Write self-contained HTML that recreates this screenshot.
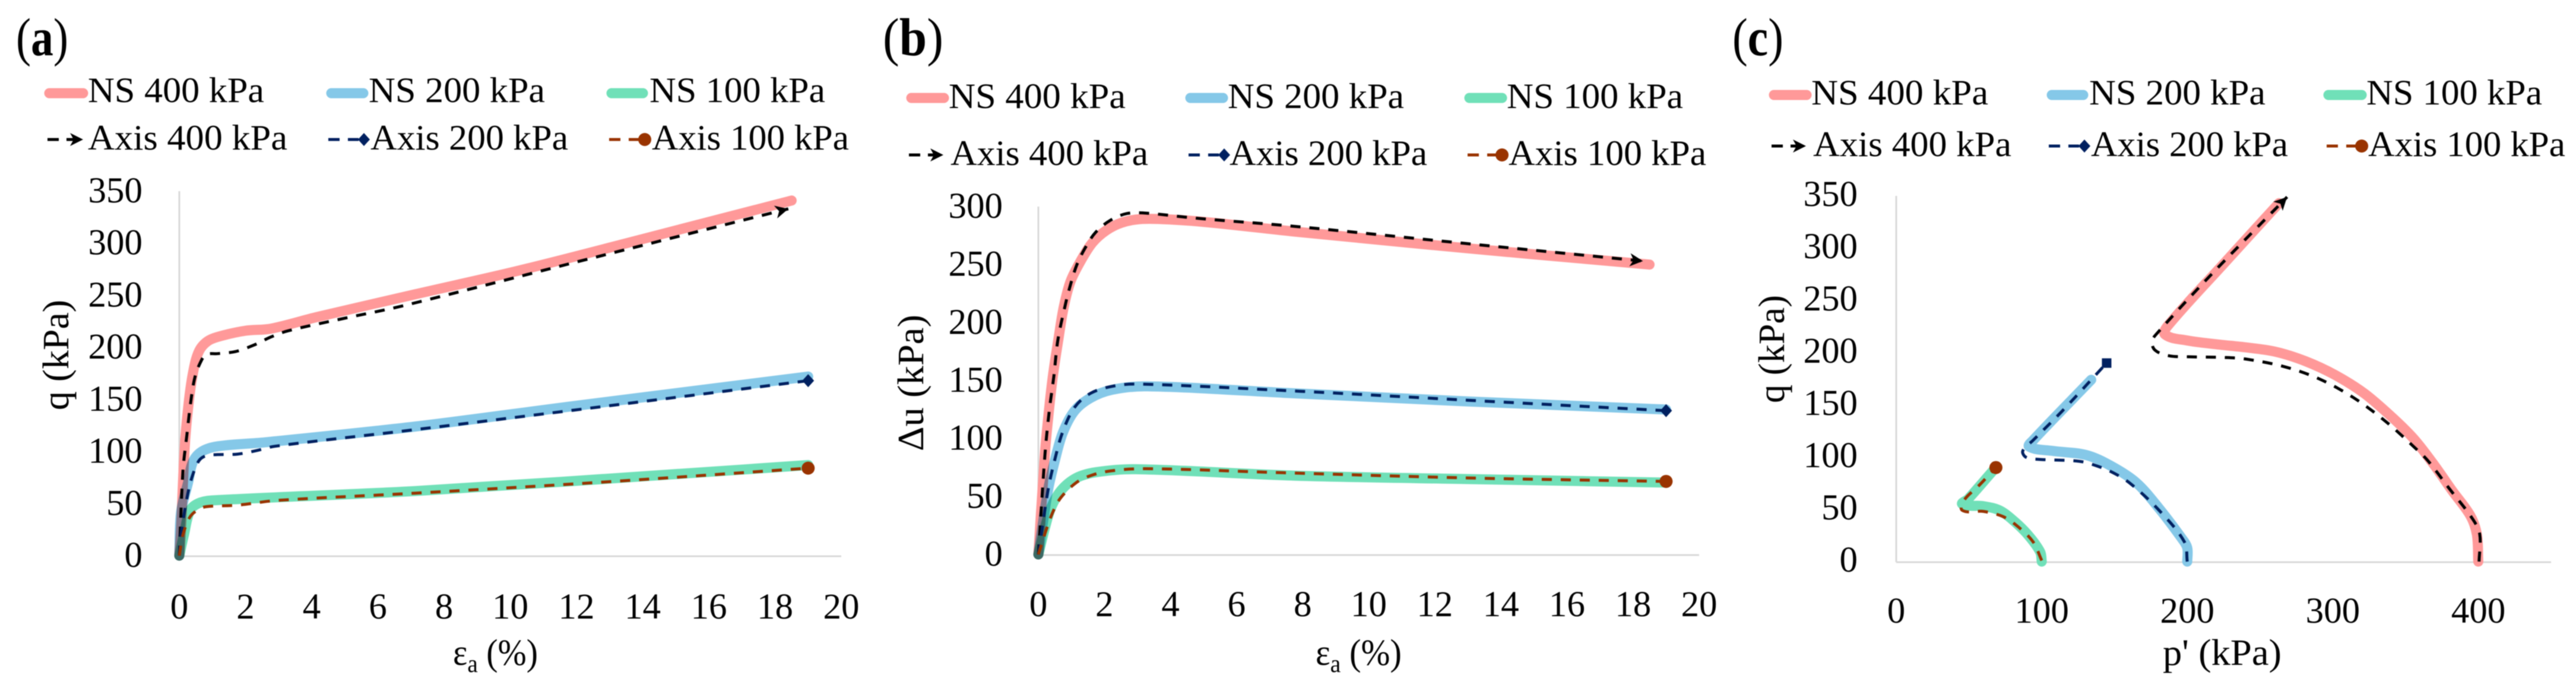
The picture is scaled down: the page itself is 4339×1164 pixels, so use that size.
<!DOCTYPE html>
<html lang="en">
<head>
<meta charset="utf-8">
<title>Triaxial test comparison: NS and Axis at 100, 200 and 400 kPa</title>
<style>
html,body{margin:0;padding:0;background:#fff;width:4339px;height:1164px;overflow:hidden}
svg{display:block;filter:blur(0.8px)}
text{font-family:"Liberation Serif","DejaVu Serif",serif;fill:#000}
.lg{font-size:60px}
.ns{fill:none;stroke-width:17;stroke-linecap:round;stroke-linejoin:round;mix-blend-mode:multiply}
.ax{fill:none;stroke-width:5;stroke-dasharray:17 15;stroke-linejoin:round}
.tick{font-size:61px}
.title{font-size:62px}
</style>
</head>
<body>
<svg id="figure" xmlns="http://www.w3.org/2000/svg" width="4339" height="1164" viewBox="0 0 4339 1164">
<rect width="4339" height="1164" fill="#fff"/>

<!-- Panel a static -->
<g id="panel-a">
<text x="27" y="93" font-size="90" textLength="88" lengthAdjust="spacingAndGlyphs">(<tspan font-weight="bold">a</tspan>)</text>
<g>
<g><line x1="83" y1="157" x2="140" y2="157" stroke="#FF9999" stroke-width="17" stroke-linecap="round"/><text class="lg" x="148" y="172" textLength="297" lengthAdjust="spacingAndGlyphs">NS 400 kPa</text></g>
<g><line x1="558" y1="157" x2="612" y2="157" stroke="#85C8E8" stroke-width="17" stroke-linecap="round"/><text class="lg" x="621" y="172" textLength="297" lengthAdjust="spacingAndGlyphs">NS 200 kPa</text></g>
<g><line x1="1030" y1="157" x2="1083" y2="157" stroke="#70E0B8" stroke-width="17" stroke-linecap="round"/><text class="lg" x="1094" y="172" textLength="296" lengthAdjust="spacingAndGlyphs">NS 100 kPa</text></g>
<g><path d="M80 235H99M112 235H132" stroke="#000" stroke-width="5" fill="none"/><path d="M140 235L118 224L124 235L118 246Z" fill="#000"/><text class="lg" x="148" y="252" textLength="336" lengthAdjust="spacingAndGlyphs">Axis 400 kPa</text></g>
<g><path d="M553 235H572M586 235H604" stroke="#002060" stroke-width="5" fill="none"/><path d="M613 224L623 235L613 246L603 235Z" fill="#002060"/><text class="lg" x="624" y="252" textLength="333" lengthAdjust="spacingAndGlyphs">Axis 200 kPa</text></g>
<g><path d="M1026 235H1045M1059 235H1077" stroke="#993300" stroke-width="5" fill="none"/><circle cx="1086" cy="235" r="11" fill="#993300"/><text class="lg" x="1098" y="252" textLength="332" lengthAdjust="spacingAndGlyphs">Axis 100 kPa</text></g>
</g>
<text class="title" transform="translate(115 598) rotate(-90)" text-anchor="middle" textLength="186" lengthAdjust="spacingAndGlyphs">q (kPa)</text>
<text class="title" x="763" y="1120" textLength="143" lengthAdjust="spacingAndGlyphs">ε<tspan font-size="42" dy="12">a</tspan><tspan dy="-12"> (%)</tspan></text>
</g>

<!-- Panel b static -->
<g id="panel-b">
<text x="1487" y="93" font-size="90" textLength="102" lengthAdjust="spacingAndGlyphs">(<tspan font-weight="bold">b</tspan>)</text>
<g>
<g><line x1="1535" y1="165" x2="1590" y2="165" stroke="#FF9999" stroke-width="17" stroke-linecap="round"/><text class="lg" x="1598" y="182" textLength="298" lengthAdjust="spacingAndGlyphs">NS 400 kPa</text></g>
<g><line x1="2005" y1="165" x2="2060" y2="165" stroke="#85C8E8" stroke-width="17" stroke-linecap="round"/><text class="lg" x="2068" y="182" textLength="297" lengthAdjust="spacingAndGlyphs">NS 200 kPa</text></g>
<g><line x1="2475" y1="165" x2="2530" y2="165" stroke="#70E0B8" stroke-width="17" stroke-linecap="round"/><text class="lg" x="2538" y="182" textLength="297" lengthAdjust="spacingAndGlyphs">NS 100 kPa</text></g>
<g><path d="M1531 261H1550M1563 261H1581" stroke="#000" stroke-width="5" fill="none"/><path d="M1589 261L1567 250L1573 261L1567 272Z" fill="#000"/><text class="lg" x="1601" y="278" textLength="333" lengthAdjust="spacingAndGlyphs">Axis 400 kPa</text></g>
<g><path d="M2002 261H2021M2035 261H2053" stroke="#002060" stroke-width="5" fill="none"/><path d="M2062 250L2072 261L2062 272L2052 261Z" fill="#002060"/><text class="lg" x="2071" y="278" textLength="333" lengthAdjust="spacingAndGlyphs">Axis 200 kPa</text></g>
<g><path d="M2472 261H2491M2505 261H2522" stroke="#993300" stroke-width="5" fill="none"/><circle cx="2530" cy="261" r="11" fill="#993300"/><text class="lg" x="2541" y="278" textLength="333" lengthAdjust="spacingAndGlyphs">Axis 100 kPa</text></g>
</g>
<text class="title" transform="translate(1555 645) rotate(-90)" text-anchor="middle" textLength="230" lengthAdjust="spacingAndGlyphs">Δu (kPa)</text>
<text class="title" x="2216" y="1120" textLength="145" lengthAdjust="spacingAndGlyphs">ε<tspan font-size="42" dy="12">a</tspan><tspan dy="-12"> (%)</tspan></text>
</g>

<!-- Panel c static -->
<g id="panel-c">
<text x="2918" y="93" font-size="90" textLength="86" lengthAdjust="spacingAndGlyphs">(<tspan font-weight="bold">c</tspan>)</text>
<g>
<g><line x1="2988" y1="160" x2="3043" y2="160" stroke="#FF9999" stroke-width="17" stroke-linecap="round"/><text class="lg" x="3051" y="176" textLength="298" lengthAdjust="spacingAndGlyphs">NS 400 kPa</text></g>
<g><line x1="3456" y1="160" x2="3509" y2="160" stroke="#85C8E8" stroke-width="17" stroke-linecap="round"/><text class="lg" x="3519" y="176" textLength="297" lengthAdjust="spacingAndGlyphs">NS 200 kPa</text></g>
<g><line x1="3922" y1="160" x2="3978" y2="160" stroke="#70E0B8" stroke-width="17" stroke-linecap="round"/><text class="lg" x="3986" y="176" textLength="296" lengthAdjust="spacingAndGlyphs">NS 100 kPa</text></g>
<g><path d="M2984 246H3003M3016 246H3034" stroke="#000" stroke-width="5" fill="none"/><path d="M3042 246L3020 235L3026 246L3020 257Z" fill="#000"/><text class="lg" x="3054" y="263" textLength="334" lengthAdjust="spacingAndGlyphs">Axis 400 kPa</text></g>
<g><path d="M3451 246H3470M3484 246H3502" stroke="#002060" stroke-width="5" fill="none"/><path d="M3511 235L3521 246L3511 257L3501 246Z" fill="#002060"/><text class="lg" x="3522" y="263" textLength="332" lengthAdjust="spacingAndGlyphs">Axis 200 kPa</text></g>
<g><path d="M3919 246H3938M3952 246H3970" stroke="#993300" stroke-width="5" fill="none"/><circle cx="3978" cy="246" r="11" fill="#993300"/><text class="lg" x="3989" y="263" textLength="332" lengthAdjust="spacingAndGlyphs">Axis 100 kPa</text></g>
</g>
<text class="title" transform="translate(3005 588) rotate(-90)" text-anchor="middle" textLength="182" lengthAdjust="spacingAndGlyphs">q (kPa)</text>
<text class="title" x="3643" y="1120" textLength="200" lengthAdjust="spacingAndGlyphs">p' (kPa)</text>
</g>
</svg>

<script>
// ---------- Tick labels ----------
const strainTicks = [0,2,4,6,8,10,12,14,16,18,20];
const qStrainTicks = [0,50,100,150,200,250,300,350];
const duTicks = [0,50,100,150,200,250,300];
const pTicks = [0,100,200,300,400];
const qPathTicks = [0,50,100,150,200,250,300,350];

// ---------- Panel (a): q vs axial strain ----------
const aNs400X = [0,0.05,0.16,0.27,0.41,0.59,0.86,1.27,2.0,2.77,4.14,7.13,10.3,14,18.5];
const aNs400Y = [0,25,102,143,175,196,206,211,216,218,229,251,274,304,341];
const aNs200X = [0,0.05,0.27,0.41,0.68,1.16,2.65,7.13,12,19];
const aNs200Y = [0,41,71,90,100,105,109,124,144,172];
const aNs100X = [0,0.14,0.32,0.56,0.98,7.13,13,19];
const aNs100Y = [0,20,43,50,53,62,74,87];
const aAx400X = [0,0.11,0.23,0.36,0.47,0.63,0.81,1.16,1.7,2.24,2.77,3.3,5.0,6.77,12,18.4];
const aAx400Y = [0,81,116,151,171,185,193,194,196,202,210,216,228,240,282,333];
const aAx200X = [0,0.05,0.23,0.38,0.59,0.81,1.16,1.76,2.35,2.88,7.13,13,19];
const aAx200Y = [0,20,55,75,91,96,97,97.5,101,105,121,144,168];
const aAx100X = [0,0.11,0.32,0.56,0.81,1.76,2.95,7.13,13,19];
const aAx100Y = [0,20,37,44,47,48.5,53,60,71,84];

// ---------- Panel (b): excess pore pressure vs axial strain ----------
const bNs400X = [0,0.2,0.32,0.44,0.62,0.77,0.98,1.28,1.64,2.05,2.53,3.13,4.03,5.23,7.74,13,18.5];
const bNs400Y = [0,88,124,154,188,213.7,235.9,253,269,279.4,286.2,289.3,288.8,286.2,278.5,264,250];
const bNs200X = [0,0.29,0.5,0.74,1.1,1.58,2.23,3.3,7.74,13,19];
const bNs200Y = [0,55,81,105,124,135,142,145,139,132,125];
const bNs100X = [0,0.2,0.38,0.68,1.15,1.76,2.95,7.74,13,19];
const bNs100Y = [0,23,40,55,66,71,73.5,68,65,62];
const bAx400X = [0,0.2,0.33,0.47,0.59,0.83,0.98,1.16,1.41,1.73,2.17,2.68,3.28,4.42,5.17,7.74,13,18.3];
const bAx400Y = [0,86,124,154,184.7,217,233.3,249.5,264,277.7,288,294,294.3,291,289,283,268,253];
const bAx200X = [0,0.29,0.5,0.74,1.1,1.58,2.23,3,7.74,13,19];
const bAx200Y = [0,55,82,106,127,139,145,147,141,133,124];
const bAx100X = [0,0.2,0.43,0.68,1.15,1.58,2.17,3.25,7.4,13,19];
const bAx100Y = [0,18,36,49,62,68,72,74,70.5,66,63];

// ---------- Panel (c): q vs p' stress paths ----------
const cNs400X = [400,399,394.5,382,369.6,356,342.4,322,301.6,281.2,260.8,240.4,220,199.6,184.7,186.8,225,263];
const cNs400Y = [0,26,44,68,92.6,117,136,160.6,178.6,191.8,200.8,205,208,211.7,217.4,226,285,343];
const cNs200X = [200,200,196.6,180,165,147.7,130.5,107,91.4,94,134];
const cNs200Y = [0,13,21.5,52,75.5,91.5,102,106,110,116,174];
const cNs100X = [100,99,91.5,82,71,60,45.5,49.5,66.5];
const cNs100Y = [0,9,24,37.5,49,53,55,60,87];
const cAx400X = [400.5,401,396,380,365.6,356,335.6,313.9,290.8,266.3,240.4,226.8,201,187.4,177.9,175.8,179.2,216,268.6];
const cAx400Y = [0,26,41,70,96.2,109.5,135,157.2,174.8,186.7,193.8,195.3,196,197,202.3,210.8,218.4,274,349];
const cAx200X = [200,198,180,161.5,150.5,138,125.5,96,89,87,94,114,144.6];
const cAx200Y = [0,19,50,74,84,91.5,96,98,100,106,116,144,190];
const cAx100X = [100,94,83.6,73.5,60,45.5,46.5,57,68.5];
const cAx100Y = [1,19,33.5,43,48,49,58.5,73,90];

const NS = 'http://www.w3.org/2000/svg';
const svg = document.getElementById('figure');

function make(tag, parent) {
  const el = document.createElementNS(NS, tag);
  parent.appendChild(el);
  return el;
}

// Smooth path through the data points, tangent length follows segment length.
function smoothPath(px, py) {
  const n = px.length;
  const tan = [];
  for (let i = 0; i < n; i++) {
    const a = Math.max(i - 1, 0), b = Math.min(i + 1, n - 1);
    const dx = px[b] - px[a], dy = py[b] - py[a];
    const l = Math.hypot(dx, dy) || 1;
    tan.push([dx / l, dy / l]);
  }
  let d = 'M' + px[0].toFixed(1) + ' ' + py[0].toFixed(1);
  for (let i = 0; i < n - 1; i++) {
    const s = Math.hypot(px[i + 1] - px[i], py[i + 1] - py[i]) / 3;
    d += 'C' + (px[i] + tan[i][0] * s).toFixed(1) + ' ' + (py[i] + tan[i][1] * s).toFixed(1) + ' ' +
         (px[i + 1] - tan[i + 1][0] * s).toFixed(1) + ' ' + (py[i + 1] - tan[i + 1][1] * s).toFixed(1) + ' ' +
         px[i + 1].toFixed(1) + ' ' + py[i + 1].toFixed(1);
  }
  return d;
}

function drawPanel(cfg) {
  const host = document.getElementById(cfg.id);
  const sx = v => cfg.x0 + (v - cfg.xMin) / (cfg.xMax - cfg.xMin) * (cfg.x1 - cfg.x0);
  const sy = v => cfg.y0 - v / cfg.yMax * (cfg.y0 - cfg.y1);

  const xAxis = make('line', host);
  
  
  xAxis.setAttribute('x1', sx(cfg.xMin));
  xAxis.setAttribute('x2', sx(cfg.xMax));
  xAxis.setAttribute('y1', sy(0) + 1);
  xAxis.setAttribute('y2', sy(0) + 1);
  xAxis.setAttribute('stroke', '#d9d9d9');
  xAxis.setAttribute('stroke-width', '3');

  const yAxis = make('line', host);
  
  
  yAxis.setAttribute('x1', sx(cfg.xMin));
  yAxis.setAttribute('x2', sx(cfg.xMin));
  yAxis.setAttribute('y1', sy(cfg.yMax));
  yAxis.setAttribute('y2', sy(0) + 1);
  yAxis.setAttribute('stroke', '#d9d9d9');
  yAxis.setAttribute('stroke-width', '3');

  cfg.xTicks.forEach(v => {
    const t = make('text', host);
    
    
    t.setAttribute('class', 'tick');
    t.setAttribute('text-anchor', 'middle');
    t.setAttribute('x', sx(v));
    t.setAttribute('y', cfg.xTickBase);
    t.textContent = v;
  });
  cfg.yTicks.forEach(v => {
    const t = make('text', host);
    
    
    t.setAttribute('class', 'tick');
    t.setAttribute('text-anchor', 'end');
    t.setAttribute('x', cfg.yTickRight);
    t.setAttribute('y', sy(v) + cfg.yTickOff);
    t.textContent = v;
  });

  const bands = make('g', host);
  
  
  bands.setAttribute('style', 'isolation:isolate');

  cfg.ns.forEach(s => {
    const p = make('path', bands);
    
    
    p.setAttribute('class', 'ns');
    p.setAttribute('stroke', s.color);
    p.setAttribute('d', smoothPath(s.x.map(sx), s.y.map(sy)));
  });

  cfg.axis.forEach(s => {
    const px = s.x.map(sx), py = s.y.map(sy);
    const p = make('path', host);
    
    
    p.setAttribute('class', 'ax');
    p.setAttribute('stroke', s.color);
    p.setAttribute('d', smoothPath(px, py));

    const n = px.length - 1;
    const ex = px[n], ey = py[n];
    let m;
    if (s.marker === 'arrow') {
      m = make('path', host);
      const ang = Math.atan2(ey - py[n - 1], ex - px[n - 1]) * 180 / Math.PI;
      m.setAttribute('d', 'M0 0L-22 -11L-16 0L-22 11Z');
      m.setAttribute('transform', 'translate(' + ex + ' ' + ey + ') rotate(' + ang + ')');
    } else if (s.marker === 'diamond') {
      m = make('path', host);
      m.setAttribute('d', 'M0 -11L10 0L0 11L-10 0Z');
      m.setAttribute('transform', 'translate(' + ex + ' ' + ey + ')');
    } else if (s.marker === 'square') {
      m = make('rect', host);
      m.setAttribute('x', ex - 8);
      m.setAttribute('y', ey - 8);
      m.setAttribute('width', 16);
      m.setAttribute('height', 16);
    } else {
      m = make('ellipse', host);
      m.setAttribute('cx', ex);
      m.setAttribute('cy', ey);
      m.setAttribute('rx', 11);
      m.setAttribute('ry', 11);
    }
    
    
    m.setAttribute('fill', s.color);
  });
}

const PINK = '#FF9999', BLUE = '#85C8E8', GREEN = '#70E0B8';
const BLACK = '#000000', NAVY = '#002060', RUST = '#993300';

drawPanel({
  id: 'panel-a', xMin: 0, xMax: 20, yMax: 350,
  x0: 302, x1: 1417, y0: 936, y1: 322,
  xTicks: strainTicks, yTicks: qStrainTicks,
  xTickBase: 1042, yTickRight: 240, yTickOff: 19,
  ns: [
    {name: 'line-ns-400', color: PINK, x: aNs400X, y: aNs400Y},
    {name: 'line-ns-200', color: BLUE, x: aNs200X, y: aNs200Y},
    {name: 'line-ns-100', color: GREEN, x: aNs100X, y: aNs100Y}
  ],
  axis: [
    {name: 'line-axis-400', color: BLACK, marker: 'arrow', x: aAx400X, y: aAx400Y},
    {name: 'line-axis-200', color: NAVY, marker: 'diamond', x: aAx200X, y: aAx200Y},
    {name: 'line-axis-100', color: RUST, marker: 'circle', x: aAx100X, y: aAx100Y}
  ]
});

drawPanel({
  id: 'panel-b', xMin: 0, xMax: 20, yMax: 300,
  x0: 1749, x1: 2862, y0: 934, y1: 348,
  xTicks: strainTicks, yTicks: duTicks,
  xTickBase: 1038, yTickRight: 1689, yTickOff: 19,
  ns: [
    {name: 'line-ns-400', color: PINK, x: bNs400X, y: bNs400Y},
    {name: 'line-ns-200', color: BLUE, x: bNs200X, y: bNs200Y},
    {name: 'line-ns-100', color: GREEN, x: bNs100X, y: bNs100Y}
  ],
  axis: [
    {name: 'line-axis-400', color: BLACK, marker: 'arrow', x: bAx400X, y: bAx400Y},
    {name: 'line-axis-200', color: NAVY, marker: 'diamond', x: bAx200X, y: bAx200Y},
    {name: 'line-axis-100', color: RUST, marker: 'circle', x: bAx100X, y: bAx100Y}
  ]
});

drawPanel({
  id: 'panel-c', xMin: 0, xMax: 450, yMax: 350,
  x0: 3194, x1: 4297, y0: 946, y1: 330,
  xTicks: pTicks, yTicks: qPathTicks,
  xTickBase: 1049, yTickRight: 3129, yTickOff: 17,
  ns: [
    {name: 'line-ns-400', color: PINK, x: cNs400X, y: cNs400Y},
    {name: 'line-ns-200', color: BLUE, x: cNs200X, y: cNs200Y},
    {name: 'line-ns-100', color: GREEN, x: cNs100X, y: cNs100Y}
  ],
  axis: [
    {name: 'line-axis-400', color: BLACK, marker: 'arrow', x: cAx400X, y: cAx400Y},
    {name: 'line-axis-200', color: NAVY, marker: 'square', x: cAx200X, y: cAx200Y},
    {name: 'line-axis-100', color: RUST, marker: 'circle', x: cAx100X, y: cAx100Y}
  ]
});
</script>
</body>
</html>
